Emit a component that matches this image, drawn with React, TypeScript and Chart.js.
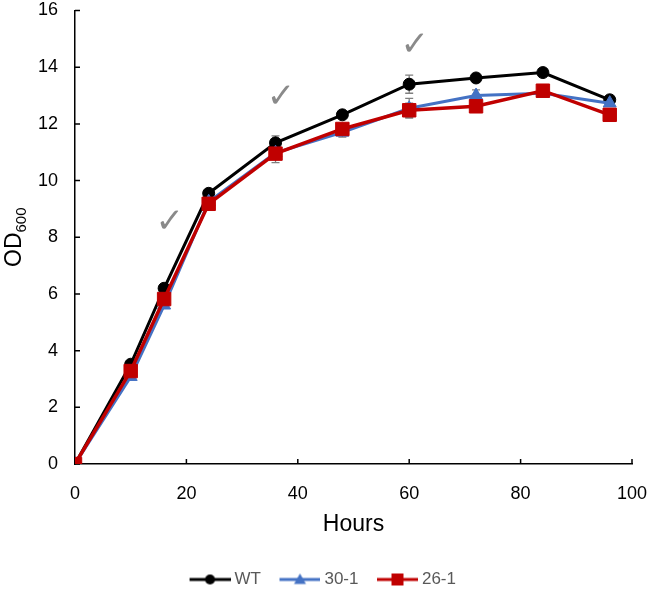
import React, { useEffect, useRef } from 'react';
import { Chart, registerables } from 'chart.js';

Chart.register(...registerables);

// ---- data ----
const hours = [0, 10, 16, 24, 36, 48, 60, 72, 84, 96];
const seriesNames = ['WT', '30-1', '26-1'];
const wtValues = [0, 3.52, 6.2, 9.55, 11.33, 12.32, 13.4, 13.62, 13.81, 12.85];
const s301Values = [0, 3.08, 5.6, 9.25, 10.98, 11.7, 12.55, 13.0, 13.08, 12.73];
const s261Values = [0, 3.28, 5.82, 9.18, 10.95, 11.82, 12.48, 12.62, 13.17, 12.32];
const wtErrors = [0, 0.05, 0.05, 0.06, 0.25, 0.08, 0.32, 0.15, 0.06, 0.06];
const s301Errors = [0, 0.08, 0.1, 0.27, 0.2, 0.17, 0.35, 0.2, 0.06, 0.08];
const s261Errors = [0, 0.05, 0.06, 0.1, 0.32, 0.1, 0.25, 0.1, 0.06, 0.06];
const xTickValues = [0, 20, 40, 60, 80, 100];
const yTickValues = [0, 2, 4, 6, 8, 10, 12, 14, 16];
const checkHours = [17, 37, 61];
const checkOD = [8.5, 12.9, 14.75];

const FONT = '"Liberation Sans", Arial, sans-serif';
const colors = ['#000000', '#4472C4', '#C00000'];
const styles = ['circle', 'triangle', 'rect'];
const radii = [6, 7.5, 9.5];
const lineWidths = [3, 3, 3.5];
const values = [wtValues, s301Values, s261Values];
const errors = [wtErrors, s301Errors, s261Errors];

function makeIcon(color: string, style: string): HTMLCanvasElement {
  const c = document.createElement('canvas');
  c.width = 59;
  c.height = 18;
  const ctx = c.getContext('2d')!;
  const cy = 9;
  ctx.strokeStyle = color;
  ctx.lineWidth = 3;
  ctx.beginPath();
  ctx.moveTo(18, cy);
  ctx.lineTo(59, cy);
  ctx.stroke();
  ctx.fillStyle = color;
  const cx = 38.5;
  ctx.beginPath();
  if (style === 'circle') {
    ctx.arc(cx, cy, 5, 0, Math.PI * 2);
  } else if (style === 'triangle') {
    ctx.moveTo(cx, cy - 6);
    ctx.lineTo(cx + 6, cy + 4.5);
    ctx.lineTo(cx - 6, cy + 4.5);
    ctx.closePath();
  } else {
    ctx.rect(cx - 6, cy - 6, 12, 12);
  }
  ctx.fill();
  return c;
}

const decorPlugin = {
  id: 'decor',
  beforeDatasetsDraw(chart: any) {
    const { ctx } = chart;
    const xs = chart.scales.x;
    const ys = chart.scales.y;
    ctx.save();
    // error bars
    ctx.strokeStyle = '#7f7f7f';
    ctx.lineWidth = 1.3;
    for (let d = 0; d < values.length; d++) {
      for (let i = 0; i < hours.length; i++) {
        const e = errors[d][i];
        if (!e) continue;
        const x = xs.getPixelForValue(hours[i]);
        const y1 = ys.getPixelForValue(values[d][i] + e);
        const y2 = ys.getPixelForValue(values[d][i] - e);
        ctx.beginPath();
        ctx.moveTo(x, y1);
        ctx.lineTo(x, y2);
        ctx.moveTo(x - 4, y1);
        ctx.lineTo(x + 4, y1);
        ctx.moveTo(x - 4, y2);
        ctx.lineTo(x + 4, y2);
        ctx.stroke();
      }
    }
    // inward ticks
    ctx.strokeStyle = '#000000';
    ctx.lineWidth = 1.5;
    const left = chart.chartArea.left;
    const bottom = chart.chartArea.bottom;
    ctx.beginPath();
    for (const v of yTickValues) {
      const y = ys.getPixelForValue(v);
      ctx.moveTo(left, y);
      ctx.lineTo(left + 5, y);
    }
    for (const v of xTickValues) {
      const x = xs.getPixelForValue(v);
      ctx.moveTo(x, bottom);
      ctx.lineTo(x, bottom - 5);
    }
    ctx.stroke();
    ctx.restore();
  },
  afterDatasetsDraw(chart: any) {
    const { ctx } = chart;
    const xs = chart.scales.x;
    const ys = chart.scales.y;
    ctx.save();
    ctx.fillStyle = '#8a8a8a';
    ctx.font = '34px "DejaVu Sans", sans-serif';
    ctx.textAlign = 'center';
    ctx.textBaseline = 'middle';
    for (let i = 0; i < checkHours.length; i++) {
      ctx.fillText('\u2713', xs.getPixelForValue(checkHours[i]), ys.getPixelForValue(checkOD[i]));
    }
    // y axis title OD600
    const cy = (chart.chartArea.top + chart.chartArea.bottom) / 2;
    ctx.translate(21, cy);
    ctx.rotate(-Math.PI / 2);
    ctx.fillStyle = '#000000';
    ctx.textAlign = 'left';
    ctx.textBaseline = 'alphabetic';
    ctx.font = '23px ' + FONT;
    const w1 = ctx.measureText('OD').width;
    ctx.font = '15px ' + FONT;
    const w2 = ctx.measureText('600').width;
    const start = -(w1 + w2) / 2;
    ctx.font = '23px ' + FONT;
    ctx.fillText('OD', start, 0);
    ctx.font = '15px ' + FONT;
    ctx.fillText('600', start + w1, 5);
    ctx.restore();
  },
};

export default function App() {
  const ref = useRef<HTMLCanvasElement>(null);
  useEffect(() => {
    const icons = seriesNames.map((_, i) => makeIcon(colors[i], styles[i]));
    const chart = new Chart(ref.current!, {
      type: 'line',
      data: {
        datasets: seriesNames.map((name, d) => ({
          label: name,
          data: hours.map((h, i) => ({ x: h, y: values[d][i] })),
          borderColor: colors[d],
          backgroundColor: colors[d],
          pointBackgroundColor: colors[d],
          pointBorderColor: colors[d],
          pointBorderWidth: 1,
          borderWidth: lineWidths[d],
          pointStyle: styles[d] as any,
          pointRadius: radii[d],
          tension: 0,
          order: 3 - d,
        })),
      },
      options: {
        animation: false,
        responsive: false,
        layout: { padding: { top: 10, right: 25, left: 0, bottom: -5 } },
        font: { family: FONT },
        scales: {
          x: {
            type: 'linear',
            min: 0,
            max: 100,
            afterBuildTicks: (s: any) => {
              s.ticks = xTickValues.map((v) => ({ value: v }));
            },
            afterFit: (s: any) => {
              s.height = 102;
              s.paddingLeft = 0;
              s.paddingRight = 0;
            },
            grid: { display: true, drawOnChartArea: false, drawTicks: false },
            border: { display: true, color: '#000000', width: 1.5 },
            ticks: { color: '#000000', font: { family: FONT, size: 18 }, padding: 19, maxRotation: 0 },
            title: {
              display: true,
              text: 'Hours',
              color: '#000000',
              font: { family: FONT, size: 23 },
              padding: { top: 0, bottom: 28 },
            },
          },
          y: {
            type: 'linear',
            min: 0,
            max: 16,
            afterBuildTicks: (s: any) => {
              s.ticks = yTickValues.map((v) => ({ value: v }));
            },
            afterFit: (s: any) => {
              s.width = 75;
              s.paddingTop = 0;
              s.paddingBottom = 0;
            },
            grid: { display: true, drawOnChartArea: false, drawTicks: false },
            border: { display: true, color: '#000000', width: 1.5 },
            ticks: { color: '#000000', font: { family: FONT, size: 18 }, padding: 17 },
          },
        },
        plugins: {
          tooltip: { enabled: false },
          legend: {
            display: true,
            position: 'bottom',
            labels: {
              usePointStyle: true,
              pointStyleWidth: 50,
              boxHeight: 17,
              padding: 5,
              color: '#595959',
              font: { family: FONT, size: 17 },
              sort: (a: any, b: any) => a.datasetIndex - b.datasetIndex,
              generateLabels: (ch: any) => {
                const items = (Chart as any).defaults.plugins.legend.labels.generateLabels(ch);
                items.forEach((it: any) => {
                  it.pointStyle = icons[it.datasetIndex];
                  it.fontColor = '#595959';
                });
                return items;
              },
            },
          },
        },
      } as any,
      plugins: [decorPlugin],
    });
    return () => chart.destroy();
  }, []);
  return (
    <div style={{ position: 'absolute', left: 0, top: 0, width: 657, height: 593, background: '#ffffff' }}>
      <canvas ref={ref} width={657} height={593} style={{ display: 'block' }} />
    </div>
  );
}
